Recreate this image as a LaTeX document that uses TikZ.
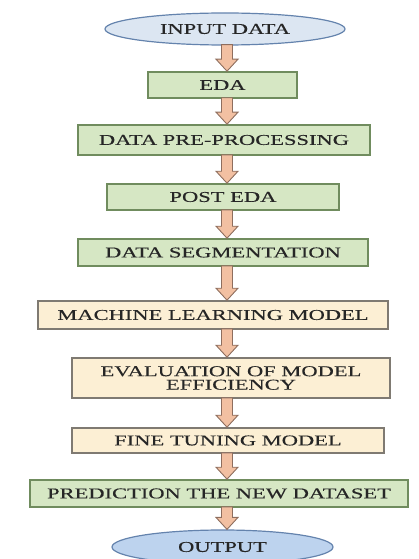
\documentclass[tikz,border=0pt]{standalone}
\usepackage{fontspec}
\setmainfont{Liberation Serif}
\newfontfamily\lblfont[FakeStretch=1.5,FakeBold=0.3]{Liberation Serif}
\usetikzlibrary{shapes.geometric,calc}
\definecolor{gfill}{HTML}{D6E7C4}
\definecolor{gline}{HTML}{708C5E}
\definecolor{yfill}{HTML}{FCEFD4}
\definecolor{yline}{HTML}{7F7A72}
\definecolor{bfill}{HTML}{DCE6F2}
\definecolor{bfill2}{HTML}{BDD3EE}
\definecolor{bline}{HTML}{6483AD}
\definecolor{afill}{HTML}{F2C0A2}
\definecolor{aline}{HTML}{8E6E5E}
\definecolor{txt}{HTML}{262626}
\tikzset{
  lbl/.style={font=\lblfont\fontsize{15}{13.5}\selectfont, text=txt, align=center, inner sep=0pt},
  gbox/.style={lbl, rectangle, draw=gline, fill=gfill, line width=1.6pt},
  ybox/.style={lbl, rectangle, draw=yline, fill=yfill, line width=1.6pt},
  oval/.style={lbl, ellipse, draw=bline, line width=1.2pt},
  barrow/.style={draw=aline, fill=afill, line width=0.9pt, line join=miter}
}
% block arrow between two named nodes, on the vertical line x = 227
\newcommand\blockarrow[2]{%
  \path let \p1=(#1.south), \p2=(#2.north) in [barrow]
    (221.5,\y1+1pt) -- (232.5,\y1+1pt) -- (232.5,\y2+12pt) -- (238,\y2+12pt)
    -- (227,\y2) -- (216,\y2+12pt) -- (221.5,\y2+12pt) -- cycle;}
\begin{document}
\begin{tikzpicture}[x=1pt,y=1pt]
\useasboundingbox (0,0) rectangle (419,-559);
\node[oval, fill=bfill, minimum width=240pt, minimum height=32pt] (in) at (225,-29) {INPUT DATA};
\node[gbox, minimum width=149pt, minimum height=26pt] (eda) at (222.5,-85) {EDA};
\node[gbox, minimum width=292pt, minimum height=30pt] (pre) at (224,-140) {DATA PRE-PROCESSING};
\node[gbox, minimum width=232pt, minimum height=26pt] (post) at (223,-197) {POST EDA};
\node[gbox, minimum width=290pt, minimum height=27pt] (seg) at (223,-252.5) {DATA SEGMENTATION};
\node[ybox, minimum width=350pt, minimum height=28pt] (ml) at (213,-315) {MACHINE LEARNING MODEL};
\node[ybox, minimum width=318pt, minimum height=40pt] (eval) at (231,-378) {EVALUATION OF MODEL\\EFFICIENCY};
\node[ybox, minimum width=312pt, minimum height=25pt] (fine) at (228,-440.5) {FINE TUNING MODEL};
\node[gbox, minimum width=378pt, minimum height=27pt] (pred) at (219,-493.5) {PREDICTION THE NEW DATASET};
\node[oval, fill=bfill2, minimum width=221pt, minimum height=34pt] (out) at (222.5,-547) {OUTPUT};
\blockarrow{in}{eda}
\blockarrow{eda}{pre}
\blockarrow{pre}{post}
\blockarrow{post}{seg}
\blockarrow{seg}{ml}
\blockarrow{ml}{eval}
\blockarrow{eval}{fine}
\blockarrow{fine}{pred}
\blockarrow{pred}{out}
\end{tikzpicture}
\end{document}
